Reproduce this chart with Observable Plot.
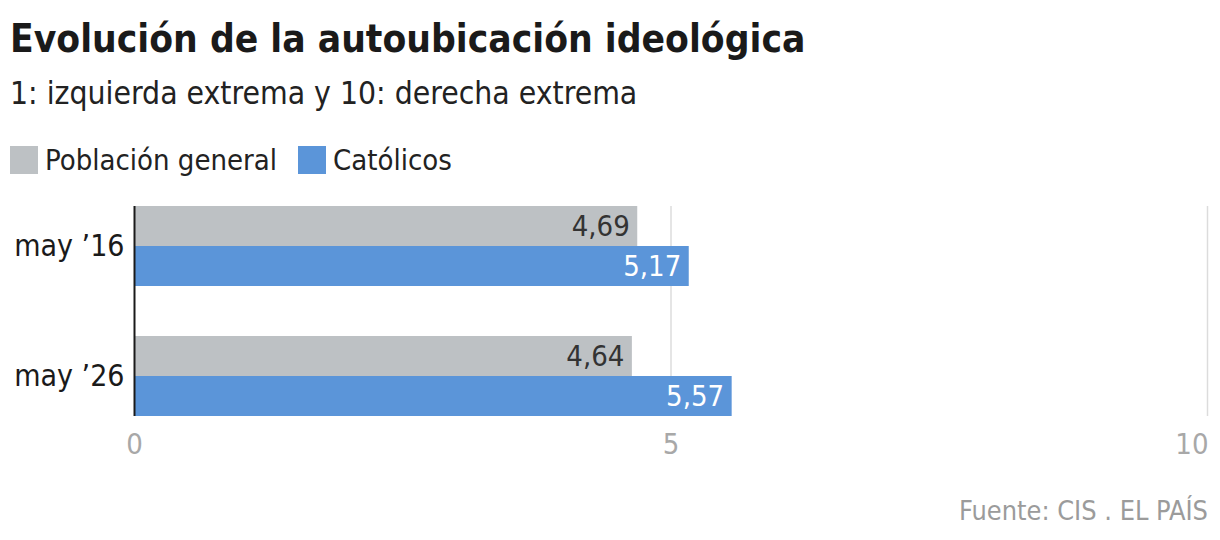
<!DOCTYPE html>
<html>
<head>
<meta charset="utf-8">
<script src="https://cdn.jsdelivr.net/npm/d3@7"></script>
<script src="https://cdn.jsdelivr.net/npm/@observablehq/plot@0.6"></script>
<style>
  html, body { margin: 0; padding: 0; background: #fff; }
  body { width: 1220px; height: 540px; position: relative; overflow: hidden;
         font-family: "Liberation Sans Narrow", "DejaVu Sans Condensed", "Roboto", sans-serif; color: #1a1a1a; }
  .title { position: absolute; left: 10px; top: 15px; font-size: 38.6px; font-weight: bold; line-height: 48px; white-space: nowrap; }
  .subtitle { position: absolute; left: 10px; top: 74px; font-size: 31.6px; line-height: 38px; color: #222; white-space: nowrap; }
  .legend { position: absolute; left: 10px; top: 143px; display: flex; align-items: center; font-size: 29px; line-height: 34px; color: #222; white-space: nowrap; }
  .legend .sw { width: 28px; height: 28px; margin-right: 7px; display: inline-block; }
  .legend .item { display: flex; align-items: center; margin-right: 21px; }
  #chart { position: absolute; left: 0; top: 196px; }
  .source { position: absolute; right: 12px; top: 495px; font-size: 26.9px; line-height: 32px; color: #9b9b9b; white-space: nowrap; }
</style>
</head>
<body>
<div class="title">Evolución de la autoubicación ideológica</div>
<div class="subtitle">1: izquierda extrema y 10: derecha extrema</div>
<div class="legend" id="legend"></div>
<div id="chart"></div>
<div class="source">Fuente: CIS . EL PAÍS</div>
<script>
const categories = ["may \u201916", "may \u201926"];
const seriesNames = ["Población general", "Católicos"];
const seriesColors = ["#bdc1c4", "#5b95d9"];
const poblacionGeneral = [4.69, 4.64];
const catolicos = [5.17, 5.57];
const xTicks = [0, 5, 10];

const rows = [];
categories.forEach((c, i) => {
  rows.push({cat: c, series: seriesNames[0], value: poblacionGeneral[i]});
  rows.push({cat: c, series: seriesNames[1], value: catolicos[i]});
});
const gen = rows.filter(d => d.series === seriesNames[0]);
const cat = rows.filter(d => d.series === seriesNames[1]);
const fmt = v => v.toFixed(2).replace(".", ",");
const FONT = '"Liberation Sans Narrow", "DejaVu Sans Condensed", Roboto, sans-serif';

// legend
const legend = document.getElementById("legend");
seriesNames.forEach((s, i) => {
  const it = document.createElement("span");
  it.className = "item";
  it.innerHTML = `<span class="sw" style="background:${seriesColors[i]}"></span>${s}`;
  legend.appendChild(it);
});

const chart = Plot.plot({
  width: 1220,
  height: 270,
  marginLeft: 134,
  marginRight: 13,
  marginTop: 10,
  marginBottom: 50,
  style: {fontFamily: FONT, background: "transparent"},
  x: {domain: [0, 10]},
  y: {domain: categories, paddingInner: 50 / 130, paddingOuter: 0},
  marks: [
    Plot.gridX(xTicks.slice(1), {stroke: "#dcdcdc", strokeOpacity: 1, strokeWidth: 1.5}),
    Plot.barX(gen, {y: "cat", x: "value", fill: seriesColors[0], insetBottom: 40}),
    Plot.barX(cat, {y: "cat", x: "value", fill: seriesColors[1], insetTop: 40}),
    Plot.text(gen, {y: "cat", x: "value", text: d => fmt(d.value), dy: -20, dx: -8, textAnchor: "end", fill: "#333", fontSize: 29}),
    Plot.text(cat, {y: "cat", x: "value", text: d => fmt(d.value), dy: 20, dx: -8, textAnchor: "end", fill: "#fff", fontSize: 29}),
    Plot.ruleX([0], {stroke: "#1a1a1a", strokeWidth: 2}),
    Plot.axisY({tickSize: 0, tickPadding: 10, fontSize: 30, color: "#1a1a1a", label: null}),
    Plot.axisX(xTicks.slice(0, 2), {tickSize: 0, tickPadding: 17, fontSize: 29, color: "#a8a8a8", label: null}),
    Plot.axisX(xTicks.slice(2), {tickSize: 0, tickPadding: 17, fontSize: 29, color: "#a8a8a8", label: null, textAnchor: "end", dx: 1})
  ]
});
document.getElementById("chart").appendChild(chart);
</script>
</body>
</html>
